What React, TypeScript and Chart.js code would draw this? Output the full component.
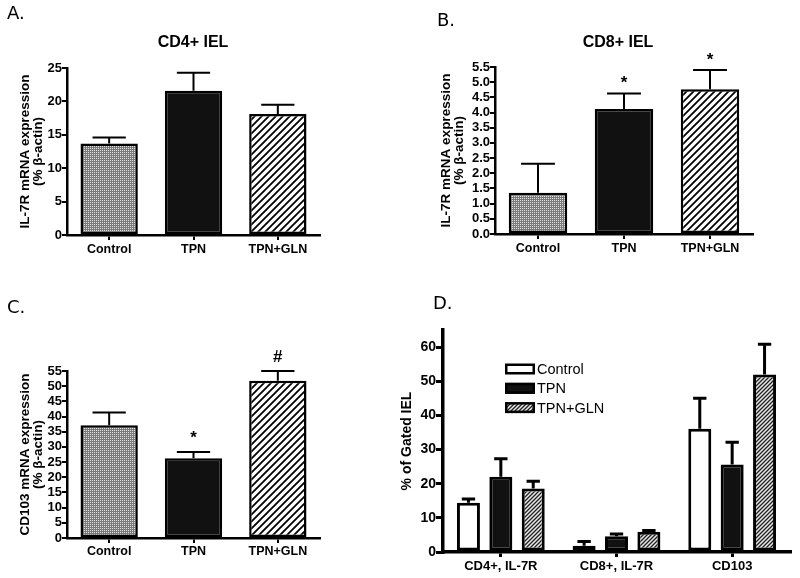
import React, { useEffect, useRef } from 'react';
import { Chart, registerables } from 'chart.js';

Chart.register(...registerables);

// ---------------- data ----------------
const GROUPS = ['Control', 'TPN', 'TPN+GLN'];

const A_MEAN = [13.7, 21.6, 18.1];
const A_SEM = [0.9, 2.7, 1.4];

const B_MEAN = [1.36, 4.12, 4.77];
const B_SEM = [0.95, 0.51, 0.63];
const B_MARKS = ['', '*', '*'];

const C_MEAN = [37.1, 26.3, 51.8];
const C_SEM = [4.2, 2.0, 3.2];
const C_MARKS = ['', '*', '#'];

const D_CATEGORIES = ['CD4+, IL-7R', 'CD8+, IL-7R', 'CD103'];
const D_CONTROL = [14.4, 1.8, 36.1];
const D_CONTROL_SEM = [1.1, 1.3, 8.9];
const D_TPN = [22.0, 4.6, 25.6];
const D_TPN_SEM = [5.3, 0.7, 6.5];
const D_GLN = [18.6, 5.9, 52.0];
const D_GLN_SEM = [2.1, 0.4, 8.8];

const FONT = '"Liberation Sans", Arial, sans-serif';
const LABEL_FONT = '"DejaVu Sans", "Open Sans", sans-serif';

// ---------------- patterns ----------------
function dotPattern(ctx: CanvasRenderingContext2D) {
  const c = document.createElement('canvas');
  c.width = 2; c.height = 2;
  const g = c.getContext('2d')!;
  g.fillStyle = '#7a7a7a';
  g.fillRect(0, 0, 2, 2);
  g.fillStyle = '#e2e2e2';
  g.fillRect(0, 0, 1, 1);
  return ctx.createPattern(c, 'repeat')!;
}

function hatchPattern(ctx: CanvasRenderingContext2D, size: number, lw: number, bg: string, fg: string) {
  const c = document.createElement('canvas');
  c.width = size; c.height = size;
  const g = c.getContext('2d')!;
  g.fillStyle = bg;
  g.fillRect(0, 0, size, size);
  g.strokeStyle = fg;
  g.lineWidth = lw;
  g.beginPath();
  g.moveTo(-1, size + 1); g.lineTo(size + 1, -1);
  g.moveTo(-1, 1); g.lineTo(1, -1);
  g.moveTo(size - 1, size + 1); g.lineTo(size + 1, size - 1);
  g.stroke();
  return ctx.createPattern(c, 'repeat')!;
}

// ---------------- decoration plugin ----------------
const decorPlugin = {
  id: 'decor',
  afterDatasetsDraw(chart: any, _args: any, opts: any) {
    const ctx = chart.ctx;
    const y = chart.scales.y;
    ctx.save();
    chart.data.datasets.forEach((ds: any, di: number) => {
      const meta = chart.getDatasetMeta(di);
      const sem = ds.sem as number[];
      if (!sem) return;
      meta.data.forEach((bar: any, i: number) => {
        const v = ds.data[i] as number;
        const yBase = y.getPixelForValue(v);
        const yTop = y.getPixelForValue(v + sem[i]);
        const half = (bar.width * opts.capRatio) / 2;
        ctx.strokeStyle = '#000';
        ctx.lineWidth = opts.errWidth;
        ctx.lineCap = 'butt';
        ctx.beginPath();
        ctx.moveTo(bar.x, yBase);
        ctx.lineTo(bar.x, yTop);
        ctx.moveTo(bar.x - half, yTop);
        ctx.lineTo(bar.x + half, yTop);
        ctx.stroke();
        const marks = opts.marks as string[] | undefined;
        if (marks && marks[i]) {
          ctx.fillStyle = '#000';
          ctx.font = `bold 17px ${FONT}`;
          ctx.textAlign = 'center';
          ctx.textBaseline = 'alphabetic';
          ctx.fillText(marks[i], bar.x, yTop - opts.markOffset);
        }
      });
    });
    ctx.restore();
  },
  afterDraw(chart: any, _args: any, opts: any) {
    const ctx = chart.ctx;
    ctx.save();
    ctx.fillStyle = '#000';
    if (opts.label) {
      ctx.font = `18px ${LABEL_FONT}`;
      ctx.textAlign = 'left';
      ctx.textBaseline = 'alphabetic';
      ctx.fillText(opts.label, opts.labelX, opts.labelY);
    }
    if (opts.title) {
      ctx.font = `bold 16px ${FONT}`;
      ctx.textAlign = 'center';
      ctx.textBaseline = 'middle';
      ctx.fillText(opts.title, opts.titleX, opts.titleY);
    }
    const lg = opts.legend;
    if (lg) {
      chart.data.datasets.forEach((ds: any, i: number) => {
        const cy = lg.y + i * lg.dy;
        const x = lg.x;
        ctx.fillStyle = ds.backgroundColor;
        ctx.fillRect(x, cy - lg.h / 2, lg.w, lg.h);
        ctx.strokeStyle = '#000';
        ctx.lineWidth = 2.5;
        ctx.strokeRect(x + 1.25, cy - lg.h / 2 + 1.25, lg.w - 2.5, lg.h - 2.5);
        ctx.fillStyle = '#000';
        ctx.font = `14.5px ${FONT}`;
        ctx.textAlign = 'left';
        ctx.textBaseline = 'middle';
        ctx.fillText(ds.label, x + lg.w + 2, cy + 1);
      });
    }
    ctx.restore();
  },
};

// ---------------- options builder ----------------
function axisOptions(p: any) {
  return {
    x: {
      offset: true,
      afterFit: (s: any) => { s.height = p.xHeight; },
      grid: {
        display: true,
        offset: false,
        drawOnChartArea: false,
        drawTicks: true,
        tickLength: 5,
        color: '#000',
        lineWidth: p.axisWidth - 0.5,
      },
      border: { display: true, color: '#000', width: p.axisWidth },
      ticks: {
        color: '#000',
        padding: p.xPad,
        font: { family: FONT, size: p.xFont, weight: 'bold' },
        maxRotation: 0,
        autoSkip: false,
      },
    },
    y: {
      min: p.min,
      max: p.max,
      afterFit: (s: any) => { s.width = p.yWidth; },
      afterBuildTicks: (s: any) => { s.ticks = s.ticks.filter((t: any) => t.value <= p.topTick + 1e-9); },
      grid: {
        display: true,
        drawOnChartArea: false,
        drawTicks: true,
        tickLength: p.yTickLen,
        color: '#000',
        lineWidth: p.axisWidth - 0.5,
      },
      border: { display: true, color: '#000', width: p.axisWidth },
      ticks: {
        color: '#000',
        stepSize: p.step,
        includeBounds: false,
        autoSkip: false,
        padding: 0,
        font: { family: FONT, size: p.yFont, weight: 'bold', lineHeight: 1 },
        callback: p.fmt,
      },
      title: {
        display: true,
        text: p.yTitle,
        color: '#000',
        font: { family: FONT, size: p.yTitleSize, weight: 'bold', lineHeight: 0.95 },
        padding: { top: p.yTitlePad, bottom: 0 },
      },
    },
  };
}

function baseOptions(p: any, decor: any) {
  return {
    responsive: false,
    maintainAspectRatio: false,
    animation: false,
    devicePixelRatio: 1,
    events: [],
    layout: { padding: p.padding },
    plugins: {
      legend: { display: false },
      tooltip: { enabled: false },
      title: { display: false },
      decor,
    },
    scales: axisOptions(p),
  };
}

function singleBarConfig(ctx: CanvasRenderingContext2D, mean: number[], sem: number[], p: any, decor: any) {
  return {
    type: 'bar',
    data: {
      labels: GROUPS,
      datasets: [
        {
          label: 'mean',
          data: mean,
          sem,
          backgroundColor: [dotPattern(ctx), '#111111', hatchPattern(ctx, 7, 1.8, '#ffffff', '#000000')],
          borderColor: '#000',
          borderWidth: 2.5,
          borderSkipped: false,
          barPercentage: 0.68,
          categoryPercentage: 1,
        },
      ],
    },
    options: baseOptions(p, decor),
    plugins: [decorPlugin],
  };
}

const fmtInt = (v: any) => String(v);
const fmt1 = (v: any) => Number(v).toFixed(1);

function buildA(ctx: CanvasRenderingContext2D) {
  return singleBarConfig(ctx, A_MEAN, A_SEM, {
    padding: { left: 0, right: 80, top: 68, bottom: 0 },
    xHeight: 55, yWidth: 67, min: 0, max: 25, step: 5, topTick: 25, fmt: fmtInt,
    axisWidth: 2.5, xPad: 2, xFont: 12.5, yFont: 13, yTickLen: 5,
    yTitle: ['IL-7R mRNA expression', '(% \u03B2-actin)'], yTitleSize: 13.5, yTitlePad: 19,
  }, { label: 'A.', labelX: 7, labelY: 19, title: 'CD4+ IEL', titleX: 193, titleY: 43, capRatio: 0.58, errWidth: 2 });
}

function buildB(ctx: CanvasRenderingContext2D) {
  return singleBarConfig(ctx, B_MEAN, B_SEM, {
    padding: { left: 0, right: 47, top: 67, bottom: 0 },
    xHeight: 56, yWidth: 95, min: 0, max: 5.5, step: 0.5, topTick: 5.5, fmt: fmt1,
    axisWidth: 2.5, xPad: 2, xFont: 12.5, yFont: 13, yTickLen: 5,
    yTitle: ['IL-7R mRNA expression', '(% \u03B2-actin)'], yTitleSize: 13.5, yTitlePad: 40,
  }, { label: 'B.', labelX: 37, labelY: 26, title: 'CD8+ IEL', titleX: 218, titleY: 43, capRatio: 0.58, errWidth: 2, marks: B_MARKS, markOffset: 5 });
}

function buildC(ctx: CanvasRenderingContext2D) {
  return singleBarConfig(ctx, C_MEAN, C_SEM, {
    padding: { left: 0, right: 80, top: 81, bottom: 0 },
    xHeight: 40, yWidth: 67, min: 0, max: 55, step: 5, topTick: 55, fmt: fmtInt,
    axisWidth: 2.5, xPad: 1, xFont: 12.5, yFont: 13, yTickLen: 5,
    yTitle: ['CD103 mRNA expression', '(% \u03B2-actin)'], yTitleSize: 13.5, yTitlePad: 19,
  }, { label: 'C.', labelX: 7, labelY: 23, capRatio: 0.58, errWidth: 2, marks: C_MARKS, markOffset: 9 });
}

function buildD(ctx: CanvasRenderingContext2D) {
  const p = {
    padding: { left: 0, right: 10, top: 40, bottom: 0 },
    xHeight: 26, yWidth: 43, min: 0, max: 65, step: 10, topTick: 60, fmt: fmtInt,
    axisWidth: 3.5, xPad: 2, xFont: 13, yFont: 14, yTickLen: 7,
    yTitle: '% of Gated IEL', yTitleSize: 14, yTitlePad: 0,
  };
  const common = { borderColor: '#000', borderWidth: 3, borderSkipped: false, barPercentage: 0.71, categoryPercentage: 0.84 };
  return {
    type: 'bar',
    data: {
      labels: D_CATEGORIES,
      datasets: [
        { label: 'Control', data: D_CONTROL, sem: D_CONTROL_SEM, backgroundColor: '#ffffff', ...common },
        { label: 'TPN', data: D_TPN, sem: D_TPN_SEM, backgroundColor: '#111111', ...common },
        { label: 'TPN+GLN', data: D_GLN, sem: D_GLN_SEM, backgroundColor: hatchPattern(ctx, 4, 1.3, '#e8e8e8', '#222222'), ...common },
      ],
    },
    options: baseOptions(p, {
      label: 'D.', labelX: 33, labelY: 19, capRatio: 0.58, errWidth: 3,
      legend: { x: 105, y: 79, dy: 19.3, w: 30, h: 11 },
    }),
    plugins: [decorPlugin],
  };
}

// ---------------- components ----------------
function Panel({ left, top, width, height, build }: any) {
  const ref = useRef<HTMLCanvasElement>(null);
  useEffect(() => {
    const canvas = ref.current!;
    const ctx = canvas.getContext('2d')!;
    const chart = new Chart(canvas, build(ctx) as any);
    return () => chart.destroy();
  }, []);
  return (
    <canvas
      ref={ref}
      width={width}
      height={height}
      style={{ position: 'absolute', left, top, width, height, display: 'block' }}
    />
  );
}

export default function App() {
  return (
    <div style={{ position: 'fixed', left: 0, top: 0, width: 800, height: 578, background: '#ffffff', overflow: 'hidden' }}>
      <Panel left={0} top={0} width={400} height={290} build={buildA} />
      <Panel left={400} top={0} width={400} height={290} build={buildB} />
      <Panel left={0} top={290} width={400} height={288} build={buildC} />
      <Panel left={400} top={290} width={400} height={288} build={buildD} />
    </div>
  );
}
